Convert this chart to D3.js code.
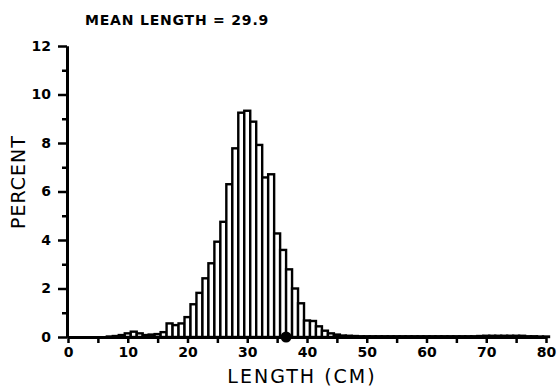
<!DOCTYPE html>
<html>
<head>
<meta charset="utf-8">
<script src="https://cdn.jsdelivr.net/npm/d3@7"></script>
<style>
  html, body { margin: 0; padding: 0; background: #fff; }
  svg { display: block; }
</style>
</head>
<body>
<div id="chart"></div>
<script>
// Length-frequency histogram, 1 cm bins centred on whole cm
const lengthBins = d3.range(1, 81);
const percentValues = [
  0, 0, 0, 0, 0, 0, 0.02, 0.04, 0.08, 0.15,          // 1-10
  0.22, 0.15, 0.08, 0.1, 0.12, 0.2, 0.56, 0.49, 0.56, 0.82, // 11-20
  1.35, 1.82, 2.42, 3.04, 3.93, 4.75, 6.3, 7.78, 9.25, 9.33, // 21-30
  8.88, 7.92, 6.58, 6.71, 4.27, 3.59, 2.79, 2.0, 1.39, 0.68, // 31-40
  0.66, 0.44, 0.26, 0.15, 0.1, 0.06, 0.05, 0.04, 0.03, 0.03, // 41-50
  0.03, 0.03, 0.03, 0.03, 0.03, 0.03, 0.03, 0.03, 0.03, 0.03, // 51-60
  0.03, 0.03, 0.03, 0.03, 0.03, 0.03, 0.03, 0.03, 0.04, 0.05, // 61-70
  0.05, 0.05, 0.05, 0.05, 0.05, 0.05, 0.03, 0.03, 0.02, 0.02  // 71-80
];
const xMajorTicks = [0, 10, 20, 30, 40, 50, 60, 70, 80];
const xMinorTicks = [5, 15, 25, 35, 45, 55, 65, 75];
const yMajorTicks = [0, 2, 4, 6, 8, 10, 12];
const yMinorTicks = [1, 3, 5, 7, 9, 11];
const markerLength = 36.5; // filled dot on the axis
const meanLength = 29.9;

const width = 557;
const height = 387;

const svg = d3.select('#chart')
  .append('svg')
  .attr('width', width)
  .attr('height', height);

const x = d3.scaleLinear().domain([0, 80]).range([68, 546]);
const y = d3.scaleLinear().domain([0, 12]).range([337, 46]);

const data = lengthBins.map((d, i) => ({ len: d, pct: percentValues[i] }));

// Bars
svg.append('g')
  .selectAll('rect')
  .data(data.filter((d) => d.pct > 0))
  .enter()
  .append('rect')
  .attr('x', (d) => x(d.len - 0.5))
  .attr('y', (d) => y(d.pct))
  .attr('width', (d) => x(d.len + 0.5) - x(d.len - 0.5))
  .attr('height', (d) => y(0) - y(d.pct))
  .attr('fill', '#fff')
  .attr('stroke', '#000')
  .attr('stroke-width', 2.4);

// Axes
function styleAxis(g) {
  g.select('.domain').attr('stroke', '#000').attr('stroke-width', 3);
  g.selectAll('.tick line').attr('stroke', '#000').attr('stroke-width', 2.5);
  g.selectAll('.tick text')
    .attr('fill', '#000')
    .attr('font-family', 'DejaVu Sans, sans-serif')
    .attr('font-weight', 'bold')
    .attr('font-size', '14px');
}

svg.append('g')
  .attr('transform', `translate(${x(0) - 1},0)`)
  .call(d3.axisLeft(y).tickValues(yMinorTicks).tickSize(5).tickSizeOuter(0).tickFormat(''))
  .call(styleAxis);

svg.append('g')
  .attr('transform', `translate(${x(0) - 1},0)`)
  .call(d3.axisLeft(y).tickValues(yMajorTicks).tickSize(9).tickSizeOuter(0).tickPadding(7))
  .call(styleAxis);

svg.append('g')
  .attr('transform', `translate(0,${y(0)})`)
  .call(d3.axisBottom(x).tickValues(xMinorTicks).tickSize(6).tickSizeOuter(0).tickFormat(''))
  .call(styleAxis);

svg.append('g')
  .attr('transform', `translate(0,${y(0)})`)
  .call(d3.axisBottom(x).tickValues(xMajorTicks).tickSize(6).tickSizeOuter(0).tickPadding(4))
  .call(styleAxis);

// Marker dot on the length axis
svg.append('circle')
  .attr('cx', x(markerLength))
  .attr('cy', y(0))
  .attr('r', 5.5)
  .attr('fill', '#000');

// Titles
svg.append('text')
  .attr('x', 85)
  .attr('y', 25)
  .attr('font-family', 'DejaVu Sans, sans-serif')
  .attr('font-weight', 'bold')
  .attr('font-size', '14px')
  .attr('letter-spacing', '0.8px')
  .text(`MEAN LENGTH = ${meanLength}`);

svg.append('text')
  .attr('transform', 'translate(25,182) rotate(-90)')
  .attr('text-anchor', 'middle')
  .attr('font-family', 'DejaVu Sans, sans-serif')
  .attr('font-size', '19px')
  .attr('letter-spacing', '1px')
  .text('PERCENT');

svg.append('text')
  .attr('x', 302)
  .attr('y', 383)
  .attr('text-anchor', 'middle')
  .attr('font-family', 'DejaVu Sans, sans-serif')
  .attr('font-size', '19px')
  .attr('letter-spacing', '2px')
  .text('LENGTH  (CM)');
</script>
</body>
</html>
